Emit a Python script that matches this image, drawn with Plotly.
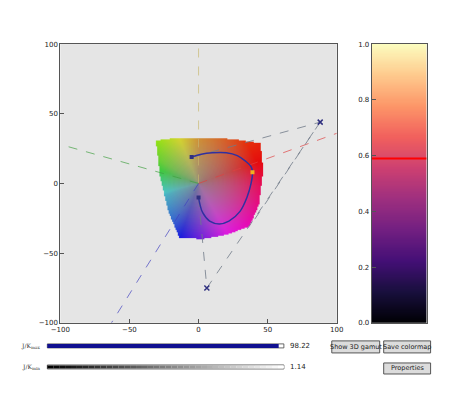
import numpy as np
import plotly.graph_objects as go
import colorsys, zlib, struct, base64

W, H = 474, 414
# data
curve_x = [-5, 2, 10, 20, 28, 34, 38, 39, 38, 35, 30, 22, 15, 8, 3, 1, 0]
curve_y = [19, 21, 22, 22, 20, 16, 12, 8, 0, -10, -20, -27, -29, -27, -21, -15, -10]
ctrl_x = [-4, 88, 6, 0]
ctrl_y = [19, 44, -75, -10]
ray_colors = ["#c8b870", "#40a040", "#e04040", "#4040c0"]
ray_end_x = [0, -100, 100, -63]
ray_end_y = [100, 28, 36, -100]
bnd_x = [-31, -15, 5, 25, 45, 47, 44, 37, 20, 3, -14, -22, -28, -31]
bnd_y = [31, 33, 33, 32, 29, 10, -15, -31, -37, -40, -39, -20, 5, 31]
slider_labels = ["J/K<sub>max</sub>", "J/K<sub>min</sub>"]
slider_vals = [98.22, 1.14]
cbar_ticks = [0.0, 0.2, 0.4, 0.6, 0.8, 1.0]
marker_val = 0.59

fig = go.Figure()
for c, ex, ey in zip(ray_colors, ray_end_x, ray_end_y):
    fig.add_trace(go.Scatter(x=[0, ex], y=[0, ey], mode="lines", line=dict(color=c, dash="dash", width=0.8), opacity=0.85, hoverinfo="skip"))
fig.add_trace(go.Scatter(x=ctrl_x, y=ctrl_y, mode="lines", line=dict(color="#707a88", dash="dash", width=0.8)))
fig.add_trace(go.Scatter(x=[88, 37], y=[44, -31], mode="lines", line=dict(color="#707a88", dash="dash", width=0.8)))

# gamut image (rgba PNG, transparent outside boundary)
N = 240
xs = np.linspace(-100, 100, N)
ys = np.linspace(100, -100, N)
X, Y = np.meshgrid(xs, ys)
px, py = np.array(bnd_x, float), np.array(bnd_y, float)
inside = np.zeros(X.shape, bool)
j = len(px) - 1
for i in range(len(px)):
    cond = ((py[i] > Y) != (py[j] > Y)) & (X < (px[j] - px[i]) * (Y - py[i]) / (py[j] - py[i] + 1e-9) + px[i])
    inside ^= cond
    j = i
ang = np.degrees(np.arctan2(Y, X)) % 360
ka = [0, 20, 60, 90, 150, 200, 235, 300, 360]
kh = [340, 360, 380, 395, 460, 550, 580, 660, 700]
hue = (np.interp(ang, ka, kh) % 360) / 360
r = np.hypot(X, Y)
sat = np.clip(r / 45, 0, 1)
img = np.zeros((N, N, 4), np.uint8)
for a in range(N):
    for b in range(N):
        if inside[a, b]:
            rr, gg, bb = colorsys.hsv_to_rgb(hue[a, b], 0.22 + 0.72 * sat[a, b], 0.6 + 0.3 * sat[a, b])
            img[a, b] = [int(rr * 255), int(gg * 255), int(bb * 255), 255]

def png(arr):
    h, w, _ = arr.shape
    raw = b"".join(b"\x00" + arr[k].tobytes() for k in range(h))
    def chunk(t, d):
        c = t + d
        return struct.pack(">I", len(d)) + c + struct.pack(">I", zlib.crc32(c) & 0xffffffff)
    return b"\x89PNG\r\n\x1a\n" + chunk(b"IHDR", struct.pack(">IIBBBBB", w, h, 8, 6, 0, 0, 0)) + chunk(b"IDAT", zlib.compress(raw)) + chunk(b"IEND", b"")

src = "data:image/png;base64," + base64.b64encode(png(img)).decode()

fig.add_trace(go.Scatter(x=curve_x, y=curve_y, mode="lines", line=dict(color="#3030a0", width=1.5, shape="spline")))
fig.add_trace(go.Scatter(x=[curve_x[0], curve_x[-1]], y=[curve_y[0], curve_y[-1]], mode="markers", marker=dict(color="#303080", size=4, symbol="square")))
fig.add_trace(go.Scatter(x=[39], y=[8], mode="markers", marker=dict(color="#f0b020", size=4, symbol="square")))
fig.add_trace(go.Scatter(x=ctrl_x[1:3], y=ctrl_y[1:3], mode="markers", marker=dict(color="#303080", size=5, symbol="x-thin", line=dict(width=1.5, color="#303080"))))

# colorbar
vals = np.linspace(0, 1, 256)
fig.add_trace(go.Heatmap(z=vals.reshape(-1, 1), x=[0], y=vals, colorscale="Magma", showscale=False, xaxis="x2", yaxis="y2", hoverinfo="skip"))
fig.add_trace(go.Scatter(x=[-0.5, 0.5], y=[marker_val, marker_val], mode="lines", line=dict(color="red", width=2), xaxis="x2", yaxis="y2"))

# compensate for observed rendering offset/scale
def px2(xp): return ((xp - 17.6) / 0.966) / W
def py2(yp): return 1 - ((yp - 12) / 0.978) / H

axstyle = dict(showgrid=False, zeroline=False, mirror=True, showline=True, linecolor="#555", linewidth=1,
               ticks="inside", ticklen=4, tickcolor="#555", tickfont=dict(size=7, family="DejaVu Sans", color="#222"))
fig.update_layout(
    width=W, height=H, margin=dict(l=0, r=0, t=0, b=0), showlegend=False,
    paper_bgcolor="white", plot_bgcolor="#e5e5e5",
    images=[dict(source=src, xref="x", yref="y", x=-100, y=100, sizex=200, sizey=200, sizing="stretch", layer="below", xanchor="left", yanchor="top")],
    xaxis=dict(domain=[px2(60), px2(337)], range=[-100, 100], tickvals=[-100, -50, 0, 50, 100], anchor="y", **axstyle),
    yaxis=dict(domain=[py2(322), py2(44)], range=[-100, 100], tickvals=[-100, -50, 0, 50, 100], anchor="x", **axstyle),
    xaxis2=dict(domain=[px2(372), px2(427)], range=[-0.5, 0.5], showticklabels=False, anchor="y2",
                **{k: v for k, v in axstyle.items() if k not in ("ticks",)}),
    yaxis2=dict(domain=[py2(322), py2(44)], range=[0, 1], tickvals=cbar_ticks, tickformat=".1f", anchor="x2", **axstyle),
)

shapes = []
ann = []
for i, (lab, v) in enumerate(zip(slider_labels, slider_vals)):
    yc = 345 + 21 * i
    x0, x1 = 47, 284
    shapes.append(dict(type="rect", xref="paper", yref="paper", x0=px2(x0), x1=px2(x1), y0=py2(yc + 2), y1=py2(yc - 2),
                       line=dict(color="#444", width=0.8), fillcolor="white"))
    ann.append(dict(x=px2(x0 - 5), y=py2(yc), xref="paper", yref="paper", text=lab, showarrow=False, xanchor="right", yanchor="middle",
                    font=dict(size=6, family="DejaVu Serif", color="#333")))
    ann.append(dict(x=px2(x1 + 4), y=py2(yc), xref="paper", yref="paper", text=f"{v:.2f}", showarrow=False, xanchor="left", yanchor="middle",
                    font=dict(size=7, family="DejaVu Sans", color="#222")))
shapes.append(dict(type="rect", xref="paper", yref="paper", x0=px2(47), x1=px2(47 + 237 * 0.978), y0=py2(347), y1=py2(343),
                   line=dict(width=0), fillcolor="#101090"))
n = 40
for k in range(n):
    g = int(255 * k / (n - 1))
    shapes.append(dict(type="rect", xref="paper", yref="paper", x0=px2(47 + 237 * k / n), x1=px2(47 + 237 * (k + 1) / n),
                       y0=py2(367.5), y1=py2(364.5), line=dict(width=0), fillcolor=f"rgb({g},{g},{g})"))
for (x0, x1, y0, y1, t) in [(332, 380, 340, 352, "Show 3D gamut"), (384, 431, 340, 352, "Save colormap"), (384, 431, 362, 373, "Properties")]:
    shapes.append(dict(type="rect", xref="paper", yref="paper", x0=px2(x0), x1=px2(x1), y0=py2(y1), y1=py2(y0),
                       line=dict(color="#555", width=1), fillcolor="#dcdcdc"))
    ann.append(dict(x=px2((x0 + x1) / 2), y=py2((y0 + y1) / 2), xref="paper", yref="paper", text=t, showarrow=False,
                    xanchor="center", yanchor="middle", font=dict(size=6.5, family="DejaVu Sans", color="#222")))
fig.update_layout(shapes=shapes, annotations=ann)
fig.write_html("out.html")
